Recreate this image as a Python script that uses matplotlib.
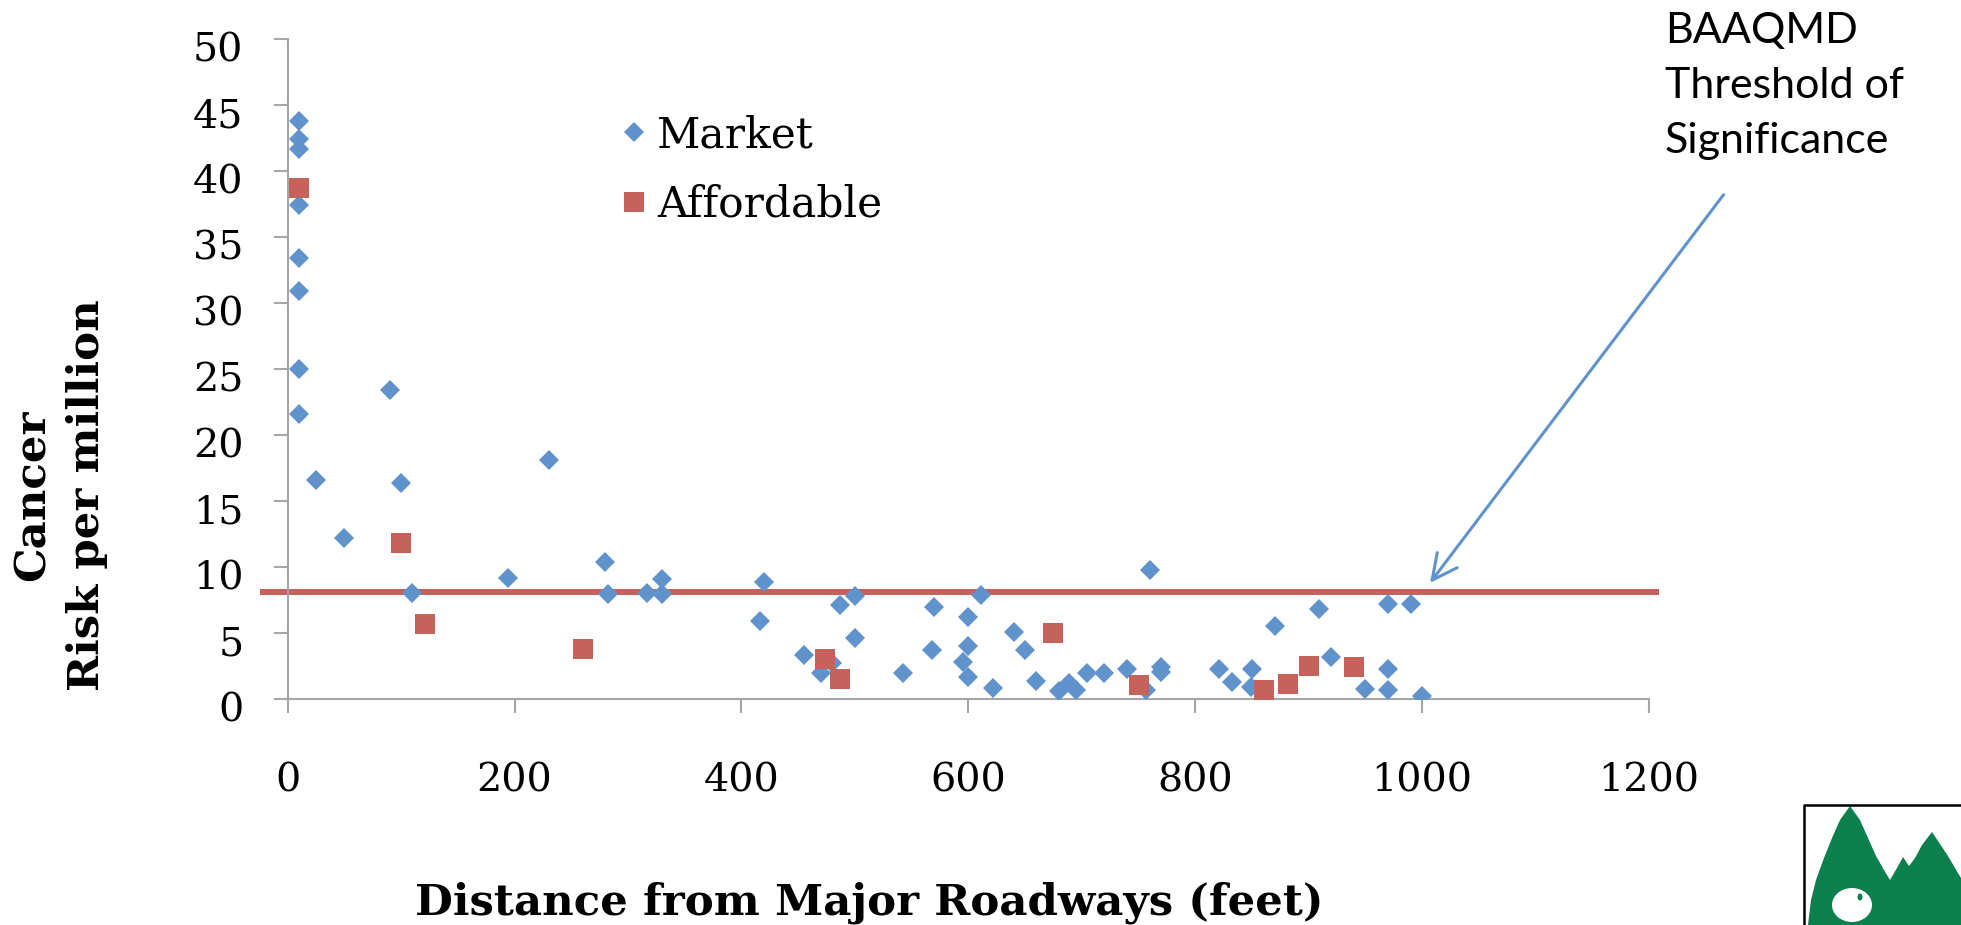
import matplotlib
matplotlib.use("Agg")
import matplotlib.pyplot as plt
from matplotlib.lines import Line2D
from matplotlib.patches import Polygon, Ellipse
from matplotlib.transforms import ScaledTranslation

# Cancer risk per million vs distance from major roadways (feet)
market_dist = [10, 10, 10, 10, 10, 10, 10, 10,
               90, 25, 100, 230, 50, 110, 194, 280, 282, 317, 330, 330,
               420, 416, 455, 470, 480, 487, 500, 500, 542, 570, 568,
               600, 600, 595, 600, 611, 622, 640, 650, 660, 680, 689, 695,
               705, 720, 740, 757, 760, 770, 770,
               821, 832, 850, 849, 870, 909, 920, 950, 970, 990, 970, 970, 1000]
market_risk = [43.8, 42.4, 41.7, 37.4, 33.4, 30.9, 25.0, 21.6,
               23.4, 16.6, 16.4, 18.1, 12.2, 8.0, 9.2, 10.4, 7.95, 8.0, 9.07, 7.95,
               8.9, 5.9, 3.3, 2.0, 2.7, 7.1, 7.8, 4.6, 2.0, 7.0, 3.7,
               6.2, 4.0, 2.8, 1.7, 7.9, 0.8, 5.1, 3.7, 1.4, 0.6, 1.2, 0.7,
               2.0, 2.0, 2.3, 0.7, 9.8, 2.45, 2.07,
               2.25, 1.3, 2.25, 0.93, 5.5, 6.8, 3.2, 0.73, 7.17, 7.17, 2.25, 0.68, 0.23]

affordable_dist = [10, 100, 121, 260, 474, 487, 675, 750, 861, 882, 900, 940]
affordable_risk = [38.7, 11.8, 5.7, 3.8, 3.0, 1.5, 5.0, 1.06, 0.68, 1.14, 2.5, 2.45]

threshold = 8.13
x_ticks = [0, 200, 400, 600, 800, 1000, 1200]
y_ticks = [0, 5, 10, 15, 20, 25, 30, 35, 40, 45, 50]

BLUE = "#6092CB"
RED = "#C4625B"
AXIS_GRAY = "#A6A6A6"
SERIF = ["DejaVu Serif"]

W, H = 1961, 925
fig = plt.figure(figsize=(W / 100, H / 100), dpi=100)
ax = fig.add_axes([287.7 / W, 1 - 699 / H, (1649 - 287.7) / W, (699 - 39) / H])


def px(x, y):
    return (x / W, 1 - y / H)


ax.plot(market_dist, market_risk, linestyle="none", marker="D", ms=10.2,
        color=BLUE, mec=BLUE, mew=0, label="Market", zorder=3)
ax.plot(affordable_dist, affordable_risk, linestyle="none", marker="s", ms=14.4,
        color=RED, mec=RED, mew=0, label="Affordable", zorder=4)

# threshold of significance line, running slightly past the axis ends
ax.plot([-24, 1209], [threshold, threshold], color=RED, lw=4.3,
        solid_capstyle="butt", clip_on=False, zorder=2)

ax.set_xlim(0, 1200)
ax.set_ylim(0, 50)
ax.set_xticks(x_ticks)
ax.set_yticks(y_ticks)
ax.set_xticklabels([str(v) for v in x_ticks], fontfamily=SERIF, fontsize=28.5)
ax.set_yticklabels([str(v) for v in y_ticks], fontfamily=SERIF, fontsize=28.5)

for side in ("top", "right"):
    ax.spines[side].set_visible(False)
for side in ("left", "bottom"):
    ax.spines[side].set_color(AXIS_GRAY)
    ax.spines[side].set_linewidth(1.5)
ax.tick_params(axis="both", direction="out", length=10, width=1.5,
               color=AXIS_GRAY, labelcolor="black")
ax.tick_params(axis="x", pad=35.5)
ax.tick_params(axis="y", pad=22)
# nudge the y labels slightly below their ticks
for lab in ax.get_yticklabels():
    lab.set_transform(lab.get_transform() +
                      ScaledTranslation(0, -6 / 72, fig.dpi_scale_trans))

leg = ax.legend(loc="upper left", bbox_to_anchor=px(621, 114),
                bbox_transform=fig.transFigure, frameon=False,
                prop={"family": SERIF, "size": 30.5}, handlelength=0.6,
                handletextpad=0.25, labelspacing=0.66, borderpad=0,
                borderaxespad=0)
for h in leg.legend_handles:
    h.set_markersize(10.2 if h.get_marker() == "D" else 14.4)

fig.text(*px(869, 914), "Distance from Major Roadways (feet)",
         ha="center", va="baseline", fontfamily=SERIF, fontweight="bold",
         fontsize=31.3)
fig.text(*px(60, 495), "Cancer\nRisk per million", rotation=90,
         ha="center", va="center", multialignment="center",
         fontfamily=SERIF, fontweight="bold", fontsize=31.3, linespacing=1.38)

# annotation for the threshold line
for i, line in enumerate(["BAAQMD", "Threshold of", "Significance"]):
    fig.text(*px(1665, 43 + 55 * i), line, ha="left", va="baseline",
             fontfamily=["Lato", "DejaVu Sans"], fontsize=31)
ax.annotate("", xy=(1007, 8.8), xytext=(1265.7, 38.2),
            arrowprops=dict(arrowstyle="->,head_length=0.5,head_width=0.25",
                            color=BLUE, lw=2.2, mutation_scale=36,
                            shrinkA=0, shrinkB=0),
            annotation_clip=False)

# corner emblem: framed green trees with a bear
green = "#0B7F4C"
trees = [(1808, 925), (1811, 900), (1816, 880), (1824, 858), (1832, 838),
         (1840, 820), (1850, 806), (1860, 820), (1868, 838), (1876, 856),
         (1884, 870), (1890, 880), (1897, 868), (1903, 857), (1909, 866),
         (1915, 858), (1922, 845), (1932, 832), (1940, 844), (1948, 856),
         (1955, 868), (1961, 878), (1961, 925)]
fig.add_artist(Polygon([px(*p) for p in trees], closed=True,
                       transform=fig.transFigure, facecolor=green,
                       edgecolor="none"))
fig.add_artist(Ellipse(px(1852, 905), 40 / W, 34 / H, transform=fig.transFigure,
                       facecolor="white", edgecolor="none"))
fig.add_artist(Ellipse(px(1860, 897), 5 / W, 7 / H, transform=fig.transFigure,
                       facecolor=green, edgecolor="none"))
fig.add_artist(Line2D([1804 / W, 1804 / W, 1], [0, 1 - 805 / H, 1 - 805 / H],
                      transform=fig.transFigure, color="black", lw=1.8))

fig.savefig("out.png", dpi=100)
